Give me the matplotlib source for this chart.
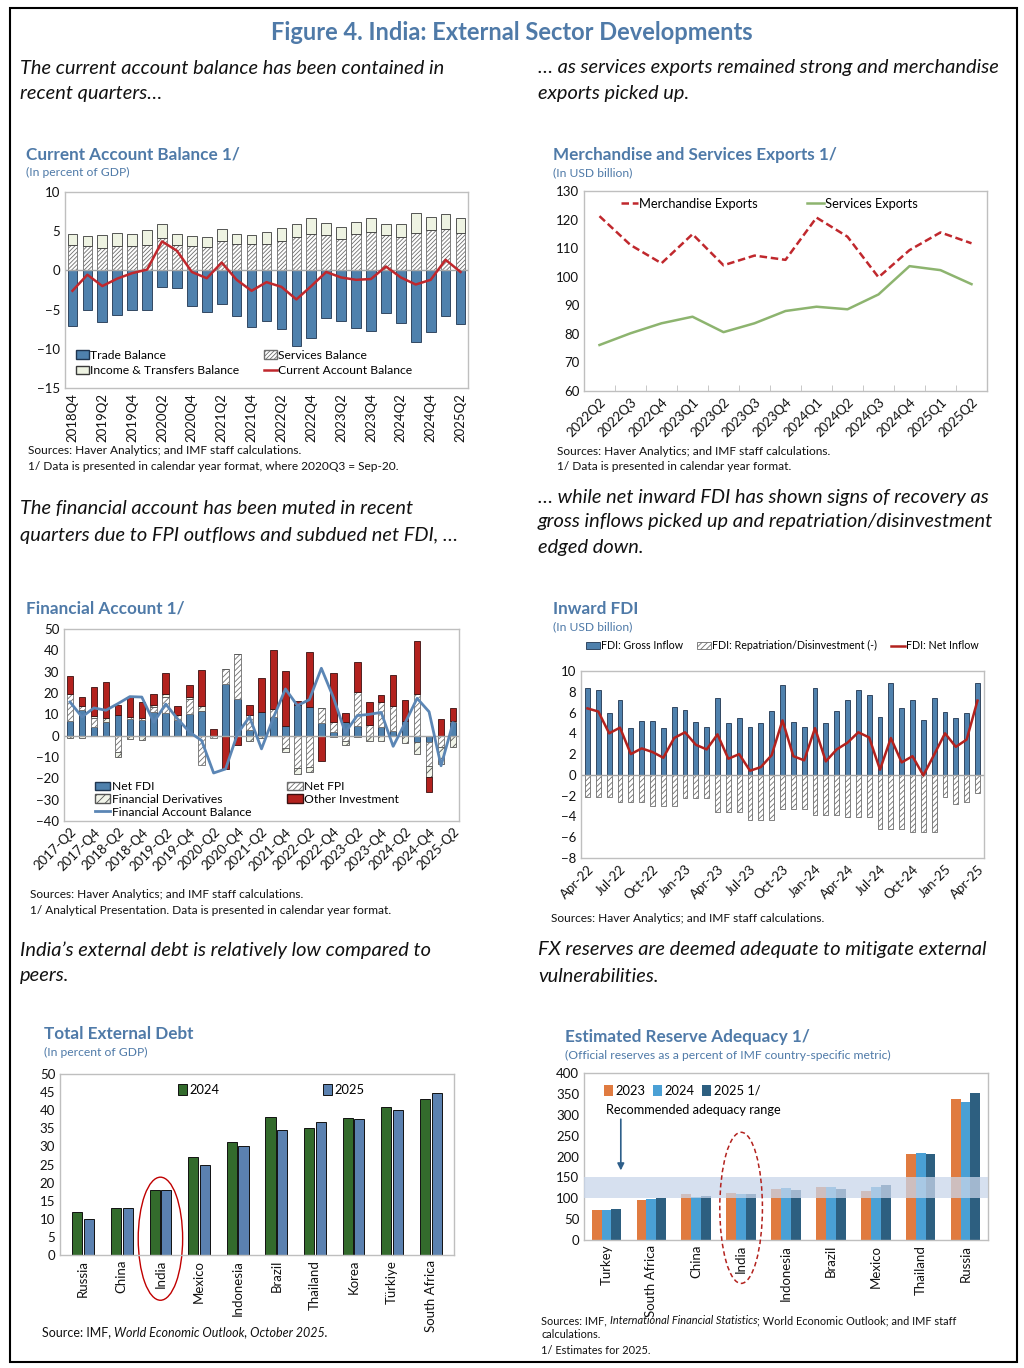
import numpy as np
import matplotlib
matplotlib.use('Agg')
import matplotlib.pyplot as plt
from matplotlib.patches import Ellipse, Rectangle, Patch
from matplotlib.lines import Line2D

plt.rcParams['font.family'] = ['Lato', 'DejaVu Sans']
plt.rcParams['hatch.linewidth'] = 0.6

W, H = 1024, 1368
BLUE_T = '#4F7AA8'
GRID = '#BFBFBF'

# ---------------- data ----------------
# Current account (2018Q4 .. 2025Q2), percent of GDP
ca_q = ['2018Q4', '2019Q1', '2019Q2', '2019Q3', '2019Q4', '2020Q1', '2020Q2', '2020Q3', '2020Q4',
        '2021Q1', '2021Q2', '2021Q3', '2021Q4', '2022Q1', '2022Q2', '2022Q3', '2022Q4', '2023Q1',
        '2023Q2', '2023Q3', '2023Q4', '2024Q1', '2024Q2', '2024Q3', '2024Q4', '2025Q1', '2025Q2']
ca_trade = [-7.1, -5.1, -6.6, -5.7, -5.0, -5.0, -2.1, -2.3, -4.6, -5.3, -4.3, -5.8, -7.2, -6.4,
            -7.5, -9.7, -8.6, -6.1, -6.4, -7.4, -7.7, -5.4, -6.7, -9.1, -7.9, -5.8, -6.8]
ca_serv = [3.2, 3.1, 2.9, 3.1, 3.05, 3.2, 4.1, 3.3, 3.1, 3.0, 3.7, 3.35, 3.35, 3.35, 3.8, 4.3,
           4.7, 4.5, 4.0, 4.6, 4.9, 4.5, 4.2, 4.75, 5.1, 5.25, 4.8]
ca_inc = [1.4, 1.35, 1.6, 1.65, 1.6, 2.0, 1.8, 1.4, 1.25, 1.25, 1.6, 1.25, 1.2, 1.5, 1.6, 1.6,
          1.95, 1.5, 1.5, 1.6, 1.75, 1.4, 1.7, 2.55, 1.7, 1.95, 1.85]
ca_bal = [-2.6, -0.55, -2.0, -1.05, -0.35, 0.1, 3.7, 2.5, -0.2, -1.0, 1.0, -1.2, -2.6, -1.5,
          -2.1, -3.7, -2.0, -0.2, -0.9, -1.2, -1.1, 0.5, -0.9, -1.8, -1.2, 1.35, -0.2]

# Exports (2022Q2 .. 2025Q2), USD billion
ex_q = ['2022Q2', '2022Q3', '2022Q4', '2023Q1', '2023Q2', '2023Q3', '2023Q4', '2024Q1', '2024Q2',
        '2024Q3', '2024Q4', '2025Q1', '2025Q2']
ex_merch = [121.2, 111.1, 104.7, 114.9, 104.0, 107.4, 105.9, 120.7, 114.0, 99.8, 109.3, 115.5, 111.7]
ex_serv = [76.1, 80.2, 83.7, 86.0, 80.6, 83.7, 88.0, 89.5, 88.6, 93.8, 103.7, 102.3, 97.4]

# Financial account (2017Q2 .. 2025Q2), USD billion
fa_q = ['2017-Q2', '2017-Q3', '2017-Q4', '2018-Q1', '2018-Q2', '2018-Q3', '2018-Q4', '2019-Q1',
        '2019-Q2', '2019-Q3', '2019-Q4', '2020-Q1', '2020-Q2', '2020-Q3', '2020-Q4', '2021-Q1',
        '2021-Q2', '2021-Q3', '2021-Q4', '2022-Q1', '2022-Q2', '2022-Q3', '2022-Q4', '2023-Q1',
        '2023-Q2', '2023-Q3', '2023-Q4', '2024-Q1', '2024-Q2', '2024-Q3', '2024-Q4', '2025-Q1',
        '2025-Q2']
fa_fdi = [6.9, 12.0, 4.2, 6.3, 9.5, 7.6, 7.3, 11.0, 10.5, 7.4, 10.0, 11.7, -0.3, 24.2, 17.4, 2.7,
          11.3, 8.7, 4.7, 14.6, 13.3, 5.9, 1.9, 6.4, 4.7, 0.0, 3.9, 2.3, 7.0, -2.8, -2.8, 0.0, 6.2]
fa_fpi = [12.6, 2.1, 3.9, 0.0, -7.8, 1.0, 0.8, 2.5, 7.5, 2.3, 7.2, -13.7, -0.6, 7.0, 20.9, 7.0,
          0.0, 3.8, -5.9, -15.0, -14.8, 6.9, 4.4, -2.6, 15.6, 4.9, 11.7, 11.4, 0.0, 19.5, -11.3,
          -5.5, 0.9]
fa_der = [-1.3, -1.2, 1.3, 2.1, -2.0, -1.5, -1.8, 1.0, 1.3, 0.0, 0.8, 2.4, 0.0, 0.0, 0.0, -2.5,
          -1.2, 0.0, -1.9, -2.9, -2.1, 0.0, -0.6, -1.6, -0.8, -2.6, -2.3, 0.0, -3.6, -5.8, -5.4,
          -7.8, -5.5]
fa_oth = [8.6, 3.9, 13.6, 16.6, 5.0, 9.4, 7.9, 4.8, 10.2, 4.0, 5.7, 16.9, 3.1, -15.6, -4.2, 4.7,
          15.5, 27.5, 25.8, 1.7, 25.8, -11.7, 23.1, 4.3, 14.1, 10.8, 3.6, 14.9, 9.7, 24.7, -7.1,
          7.8, 6.1]
fa_bal = [15.8, 8.8, 13.0, 11.9, 15.0, 18.3, 18.1, 6.3, 14.8, 7.8, 1.6, -2.3, -17.5, -15.6, 1.0,
          8.8, -6.2, 8.5, 21.9, 14.1, 16.9, 31.6, 18.0, 1.5, 9.4, 10.0, 10.9, -5.0, 6.0, 17.5,
          11.2, -14.1, 6.0]

# Inward FDI (Apr-22 .. Apr-25), USD billion
fdi_m = ['Apr-22', 'May-22', 'Jun-22', 'Jul-22', 'Aug-22', 'Sep-22', 'Oct-22', 'Nov-22', 'Dec-22',
         'Jan-23', 'Feb-23', 'Mar-23', 'Apr-23', 'May-23', 'Jun-23', 'Jul-23', 'Aug-23', 'Sep-23',
         'Oct-23', 'Nov-23', 'Dec-23', 'Jan-24', 'Feb-24', 'Mar-24', 'Apr-24', 'May-24', 'Jun-24',
         'Jul-24', 'Aug-24', 'Sep-24', 'Oct-24', 'Nov-24', 'Dec-24', 'Jan-25', 'Feb-25', 'Mar-25',
         'Apr-25']
fdi_gross = [8.4, 8.15, 6.0, 7.2, 4.55, 5.2, 5.15, 4.5, 6.55, 6.25, 5.1, 4.6, 7.4, 5.0, 5.45, 4.6,
             5.0, 6.15, 8.65, 5.1, 4.65, 8.4, 5.0, 6.15, 7.2, 8.15, 7.7, 5.6, 8.85, 6.4, 7.25, 5.3,
             7.4, 6.1, 5.5, 6.0, 8.85]
fdi_repat = [-2.1, -2.1, -2.1, -2.65, -2.65, -2.65, -2.95, -2.95, -2.95, -2.2, -2.2, -2.2, -3.55,
             -3.55, -3.55, -4.3, -4.3, -4.3, -3.3, -3.3, -3.3, -3.85, -3.85, -3.85, -4.1, -4.1,
             -4.1, -5.25, -5.25, -5.25, -5.45, -5.45, -5.45, -2.1, -2.85, -2.65, -1.7]
fdi_net = [6.4, 6.1, 4.0, 4.55, 2.0, 2.55, 2.2, 1.65, 3.55, 4.1, 2.9, 2.45, 3.9, 1.55, 2.0, 0.4,
           0.75, 1.9, 5.25, 1.8, 1.4, 4.5, 1.3, 2.45, 3.1, 4.1, 3.6, 0.5, 3.55, 1.2, 1.8, -0.05,
           1.95, 4.0, 2.7, 3.4, 7.15]

# Total external debt, percent of GDP
debt_c = ['Russia', 'China', 'India', 'Mexico', 'Indonesia', 'Brazil', 'Thailand', 'Korea',
          'Türkiye', 'South Africa']
debt_24 = [11.9, 13.1, 17.9, 27.2, 31.1, 38.0, 35.2, 37.9, 40.9, 43.0]
debt_25 = [9.9, 13.1, 18.0, 24.8, 30.0, 34.4, 36.8, 37.5, 40.0, 44.7]

# Reserve adequacy, percent of ARA metric
ra_c = ['Turkey', 'South Africa', 'China', 'India', 'Indonesia', 'Brazil', 'Mexico', 'Thailand',
        'Russia']
ra_23 = [72, 96, 109, 113, 122, 127, 117, 205, 337]
ra_24 = [72, 99, 103, 111, 125, 126, 127, 208, 331]
ra_25 = [74, 101, 105, 111, 119, 121, 131, 207, 352]
ra_band = [100, 150]


# ---------------- helpers ----------------
fig = plt.figure(figsize=(W / 100, H / 100), dpi=100)


def box(l, t, r, b):
    return fig.add_axes([l / W, 1 - b / H, (r - l) / W, (b - t) / H])


def ftext(x, y, s, **kw):
    kw.setdefault('va', 'center')
    return fig.text(x / W, 1 - y / H, s, **kw)


def style(ax):
    for sp in ax.spines.values():
        sp.set_color(GRID)
        sp.set_linewidth(1.0)
    ax.tick_params(length=0, labelsize=9.5, colors='#111111')


def stack(ax, x, series, styles, width):
    pos = np.zeros(len(x))
    neg = np.zeros(len(x))
    for vals, st in zip(series, styles):
        v = np.array(vals, dtype=float)
        bot = np.where(v >= 0, pos, neg)
        ax.bar(x, v, width, bottom=bot, **st)
        pos += np.clip(v, 0, None)
        neg += np.clip(v, None, 0)


def title(x, y, main, sub=None):
    ftext(x, y, main, fontsize=12.3, fontweight='bold', color=BLUE_T)
    if sub:
        ftext(x, y + 18, sub, fontsize=8.7, color=BLUE_T)


# border + headline
fig.add_artist(Rectangle((10 / W, 1 - 1362 / H), 1007 / W, 1354 / H, transform=fig.transFigure,
                         fill=False, ec='black', lw=1.5))
ftext(512, 33, 'Figure 4. India: External Sector Developments', ha='center', fontsize=17,
      fontweight='bold', color=BLUE_T)

hd = dict(fontsize=14.4, style='italic', color='#111111')
ftext(20, 68, 'The current account balance has been contained in', **hd)
ftext(20, 93, 'recent quarters…', **hd)
ftext(538, 68, '… as services exports remained strong and merchandise', **hd)
ftext(538, 93, 'exports picked up.', **hd)
ftext(20, 509, 'The financial account has been muted in recent', **hd)
ftext(20, 535, 'quarters due to FPI outflows and subdued net FDI, …', **hd)
ftext(538, 497, '… while net inward FDI has shown signs of recovery as', **hd)
ftext(538, 522, 'gross inflows picked up and repatriation/disinvestment', **hd)
ftext(538, 547, 'edged down.', **hd)
ftext(20, 950, 'India’s external debt is relatively low compared to', **hd)
ftext(20, 976, 'peers.', **hd)
ftext(538, 950, 'FX reserves are deemed adequate to mitigate external', **hd)
ftext(538, 976, 'vulnerabilities.', **hd)

src = dict(fontsize=8.6, color='#111111')
SRC_HAVER = 'Sources: Haver Analytics; and IMF staff calculations.'
LEG = 8.7

# ---------------- Current account ----------------
title(26, 154, 'Current Account Balance 1/', '(In percent of GDP)')
ax = box(65, 192, 468, 388)
style(ax)
x = np.arange(len(ca_q))
stack(ax, x, [ca_trade, ca_serv, ca_inc],
      [dict(color='#4F81AD', ec='#1F3550', lw=0.6),
       dict(color='white', ec='#6E6E6E', hatch='////////', lw=0.6),
       dict(color='#EEF3E2', ec='#3A3A3A', lw=0.6)], 0.65)
ax.axhline(0, color='#A6A6A6', lw=1, zorder=1)
ax.plot(x, ca_bal, color='#C0282D', lw=1.8, zorder=4)
ax.set_xlim(-0.5, len(x) - 0.5)
ax.set_ylim(-15, 10)
ax.set_yticks(range(-15, 11, 5))
ax.set_xticks(x[::2])
ax.set_xticklabels(ca_q[::2], rotation=90)
hl = [Patch(fc='#4F81AD', ec='#1F3550'), Patch(fc='#EEF3E2', ec='#3A3A3A'),
      Patch(fc='white', ec='#6E6E6E', hatch='////////'), Line2D([], [], color='#C0282D', lw=1.8)]
ax.legend(hl, ['Trade Balance', 'Income & Transfers Balance', 'Services Balance',
               'Current Account Balance'], ncol=2, frameon=False, fontsize=LEG, loc='upper left',
          bbox_to_anchor=(0.0, 0.25), handlelength=1.1, handletextpad=0.1, columnspacing=2.0,
          labelspacing=0.35)
ftext(28, 450, SRC_HAVER, **src)
ftext(28, 466, '1/ Data is presented in calendar year format, where 2020Q3 = Sep-20.', **src)

# ---------------- Exports ----------------
title(553, 155, 'Merchandise and Services Exports 1/', '(In USD billion)')
ax = box(584, 191, 987, 391)
style(ax)
x = np.arange(len(ex_q))
ax.plot(x, ex_merch, color='#C0282D', lw=1.8, ls=(0, (3, 1.5)), label='Merchandise Exports')
ax.plot(x, ex_serv, color='#8DB46F', lw=1.8, label='Services Exports')
ax.set_xlim(-0.5, len(x) - 0.5)
ax.set_ylim(60, 130)
ax.set_yticks(range(60, 131, 10))
ax.set_xticks(x)
ax.set_xticklabels(ex_q, rotation=45, ha='right', rotation_mode='anchor')
ax.set_xticks(np.arange(0.5, len(x) - 1, 1), minor=True)
ax.tick_params(axis='x', which='minor', length=4, color=GRID, direction='in')
ax.legend(ncol=2, frameon=False, fontsize=9.3, loc='center', bbox_to_anchor=(0.46, 0.935),
          handlelength=1.3, handletextpad=0.1, columnspacing=3.8)
ftext(557, 451, SRC_HAVER, **src)
ftext(557, 467, '1/ Data is presented in calendar year format.', **src)

# ---------------- Financial account ----------------
title(26, 608, 'Financial Account 1/')
ax = box(64, 629, 459, 821)
style(ax)
x = np.arange(len(fa_q))
fa_styles = [dict(color='#4F81AD', ec='#1F3550', lw=0.6),
             dict(color='white', ec='#6E6E6E', hatch='//////', lw=0.6),
             dict(color='#F2F5EA', ec='#555555', hatch='////', lw=0.6),
             dict(color='#B3221E', ec='#3A1010', lw=0.6)]
stack(ax, x, [fa_fdi, fa_fpi, fa_der, fa_oth], fa_styles, 0.55)
ax.axhline(0, color='#A6A6A6', lw=1, zorder=1)
ax.plot(x, fa_bal, color='#5B86B5', lw=2, zorder=4)
ax.set_xlim(-0.5, len(x) - 0.5)
ax.set_ylim(-40, 50)
ax.set_yticks(range(-40, 51, 10))
ax.set_xticks(x[::2])
ax.set_xticklabels(fa_q[::2], rotation=45, ha='right', rotation_mode='anchor')
hl = [Patch(fc='#4F81AD', ec='#1F3550'), Patch(fc='#F2F5EA', ec='#555555', hatch='////'),
      Line2D([], [], color='#5B86B5', lw=2), Patch(fc='white', ec='#6E6E6E', hatch='//////'),
      Patch(fc='#B3221E', ec='#3A1010')]
ax.legend(hl, ['Net FDI', 'Financial Derivatives', 'Financial Account Balance', 'Net FPI',
               'Other Investment'], ncol=2, frameon=False, fontsize=LEG, loc='upper left',
          bbox_to_anchor=(0.05, 0.265), handlelength=1.3, handletextpad=0.1, columnspacing=3.0,
          labelspacing=0.15)
ftext(30, 895, SRC_HAVER, **src)
ftext(30, 911, '1/ Analytical Presentation. Data is presented in calendar year format.', **src)

# ---------------- Inward FDI ----------------
title(553, 609, 'Inward FDI', '(In USD billion)')
ax = box(581, 671, 984, 858)
style(ax)
x = np.arange(len(fdi_m))
b1 = ax.bar(x, fdi_gross, 0.45, color='#4F81AD', ec='#1F3550', lw=0.6)
b2 = ax.bar(x, fdi_repat, 0.45, color='white', ec='#6E6E6E', hatch='//////', lw=0.6)
ax.axhline(0, color='#A6A6A6', lw=1, zorder=1)
l1, = ax.plot(x, fdi_net, color='#B3221E', lw=1.8, zorder=4)
ax.set_xlim(-0.6, len(x) - 0.4)
ax.set_ylim(-8, 10)
ax.set_yticks(range(-8, 11, 2))
ax.set_xticks(x[::3])
ax.set_xticklabels(fdi_m[::3], rotation=45, ha='right', rotation_mode='anchor')
ax.legend([b1, b2, l1], ['FDI: Gross Inflow', 'FDI: Repatriation/Disinvestment (-)',
                         'FDI: Net Inflow'],
          ncol=3, frameon=False, fontsize=7.7, loc='center', bbox_to_anchor=(0.5, 1.134),
          handlelength=1.3, handletextpad=0.1, columnspacing=1.3)
ftext(551, 918, SRC_HAVER, **src)

# ---------------- External debt ----------------
title(44, 1034, 'Total External Debt', '(In percent of GDP)')
ax = box(60, 1074, 454, 1255)
style(ax)
x = np.arange(len(debt_c))
ax.bar(x - 0.15, debt_24, 0.26, color='#336B2C', ec='#111111', lw=0.7, label='2024')
ax.bar(x + 0.15, debt_25, 0.26, color='#5B81B0', ec='#111111', lw=0.7, label='2025')
ax.set_xlim(-0.6, len(x) - 0.4)
ax.set_ylim(0, 50)
ax.set_yticks(range(0, 51, 5))
ax.set_xticks(x)
ax.set_xticklabels(debt_c, rotation=90)
ax.legend(ncol=2, frameon=False, fontsize=9.3, loc='upper left', bbox_to_anchor=(0.27, 1.01),
          handlelength=0.7, handleheight=0.9, handletextpad=0.2, columnspacing=8.0)
india = debt_c.index('India')
ax.add_patch(Ellipse((india, 4.5), 1.15, 34, fill=False, ec='#C00000', lw=1, clip_on=False))
src_d = dict(src, fontsize=9.0)
t = ftext(42, 1332, 'Source: IMF, ', **src_d)
ax.annotate('World Economic Outlook, October 2025.', xy=(1, 0), xycoords=t, va='bottom',
            ha='left', style='italic', annotation_clip=False, **src_d)

# ---------------- Reserve adequacy ----------------
title(565, 1037, 'Estimated Reserve Adequacy 1/',
      '(Official reserves as a percent of IMF country-specific metric)')
ax = box(584, 1073, 988, 1240)
style(ax)
x = np.arange(len(ra_c))
ax.bar(x - 0.22, ra_23, 0.22, color='#E07B40', label='2023', zorder=2)
ax.bar(x, ra_24, 0.22, color='#4AA0D5', label='2024', zorder=2)
ax.bar(x + 0.22, ra_25, 0.22, color='#2D5F80', label='2025 1/', zorder=2)
ax.axhspan(ra_band[0], ra_band[1], color='#C9D6EA', alpha=0.75, lw=0, zorder=3)
ax.set_xlim(-0.5, len(x) - 0.5)
ax.set_ylim(0, 400)
ax.set_yticks(range(0, 401, 50))
ax.set_xticks(x)
ax.set_xticklabels(ra_c, rotation=90)
ax.legend(ncol=3, frameon=False, fontsize=9.3, loc='upper left', bbox_to_anchor=(0.02, 1.0),
          handlelength=0.7, handleheight=0.9, handletextpad=0.2, columnspacing=0.6)
ax.text(0.0, 312, 'Recommended adequacy range', fontsize=9.2, va='center', zorder=5)
ax.annotate('', xy=(0.32, 160), xytext=(0.32, 296),
            arrowprops=dict(arrowstyle='-|>', color='#2E5F8A', lw=1.2), zorder=5)
india = ra_c.index('India')
ax.add_patch(Ellipse((india, 77), 0.95, 362, fill=False, ec='#B3221E', lw=1.1, ls=(0, (3, 2)),
                     clip_on=False, zorder=6))
src_r = dict(src, fontsize=7.9)
t = ftext(541, 1321, 'Sources: IMF, ', **src_r)
t2 = ax.annotate('International Financial Statistics', xy=(1, 0), xycoords=t, va='bottom',
                 ha='left', style='italic', annotation_clip=False, **src_r)
ax.annotate('; World Economic Outlook; and IMF staff', xy=(1, 0), xycoords=t2, va='bottom',
            ha='left', annotation_clip=False, **src_r)
ftext(541, 1335, 'calculations.', **src_r)
ftext(541, 1350, '1/ Estimates for 2025.', **src_r)

fig.savefig('out.png', dpi=100)
